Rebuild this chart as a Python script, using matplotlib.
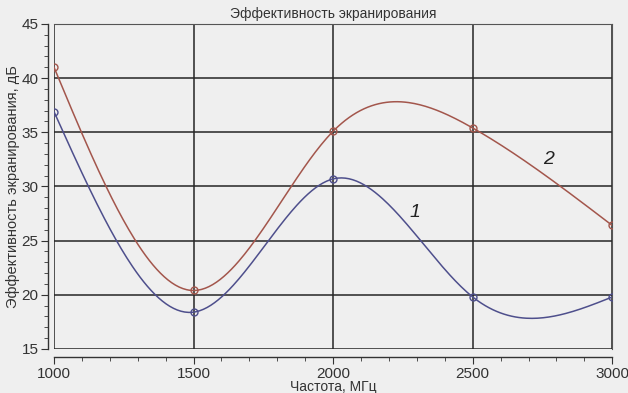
import numpy as np
import matplotlib
matplotlib.use('Agg')
import matplotlib.pyplot as plt
from matplotlib.ticker import MultipleLocator

plt.rcParams['font.family'] = ['Liberation Sans', 'DejaVu Sans']

# Данные
freq = [1000, 1500, 2000, 2500, 3000]
se1 = [36.9, 18.4, 30.7, 19.8, 19.8]
se2 = [41.0, 20.4, 35.1, 35.4, 26.4]

c1 = '#4e4f8c'
c2 = '#a3564c'


def spline(x, y, n=300):
    # естественный кубический сплайн через точки
    x = np.asarray(x, float)
    y = np.asarray(y, float)
    k = len(x)
    h = np.diff(x)
    A = np.zeros((k, k))
    b = np.zeros(k)
    A[0, 0] = A[-1, -1] = 1
    for i in range(1, k - 1):
        A[i, i - 1] = h[i - 1]
        A[i, i] = 2 * (h[i - 1] + h[i])
        A[i, i + 1] = h[i]
        b[i] = 6 * ((y[i + 1] - y[i]) / h[i] - (y[i] - y[i - 1]) / h[i - 1])
    m = np.linalg.solve(A, b)
    xs = np.linspace(x[0], x[-1], n)
    idx = np.clip(np.searchsorted(x, xs) - 1, 0, k - 2)
    t = xs - x[idx]
    hi = h[idx]
    a = (m[idx + 1] - m[idx]) / (6 * hi)
    bb = m[idx] / 2
    c = (y[idx + 1] - y[idx]) / hi - hi * (2 * m[idx] + m[idx + 1]) / 6
    ys = y[idx] + c * t + bb * t ** 2 + a * t ** 3
    return xs, ys


fig = plt.figure(figsize=(6.28, 3.93), dpi=100, facecolor='#efefef')
ax = fig.add_axes([0.086, 0.112, 0.889, 0.827])
ax.set_facecolor('#efefef')

for ys, col in [(se1, c1), (se2, c2)]:
    xs, yy = spline(freq, ys)
    ax.plot(xs, yy, color=col, lw=1.1, zorder=3)
    ax.plot(freq, ys, 'o', ms=5, mfc='none', mec=col, mew=1.0, zorder=4)

ax.text(2294, 27.6, '1', fontsize=14, style='italic', ha='center', va='center', color='#222222')
ax.text(2771, 32.5, '2', fontsize=14, style='italic', ha='center', va='center', color='#222222')

ax.set_xlim(1000, 3000)
ax.set_ylim(15, 45)
ax.xaxis.set_major_locator(MultipleLocator(500))
ax.xaxis.set_minor_locator(MultipleLocator(100))
ax.yaxis.set_major_locator(MultipleLocator(5))
ax.yaxis.set_minor_locator(MultipleLocator(1))
ax.grid(True, which='major', color='#262626', lw=1.1)
ax.set_axisbelow(True)

for s in ['top', 'right']:
    ax.spines[s].set_color('#555555')
    ax.spines[s].set_linewidth(0.8)
ax.spines['bottom'].set_position(('outward', 6))
ax.spines['left'].set_position(('outward', 4))
for s in ['bottom', 'left']:
    ax.spines[s].set_color('#333333')
    ax.spines[s].set_linewidth(1.0)

ax.tick_params(which='major', length=5, color='#333333', labelsize=11, labelcolor='#333333', pad=2)
ax.tick_params(which='minor', length=3, color='#333333')

ax.set_title('Эффективность экранирования', fontsize=10, color='#333333', pad=4)
ax.set_xlabel('Частота, МГц', fontsize=10, color='#333333', labelpad=-1)
ax.set_ylabel('Эффективность экранирования, дБ', fontsize=10.5, color='#333333', labelpad=1)

fig.savefig('out.png', dpi=100, facecolor=fig.get_facecolor())
